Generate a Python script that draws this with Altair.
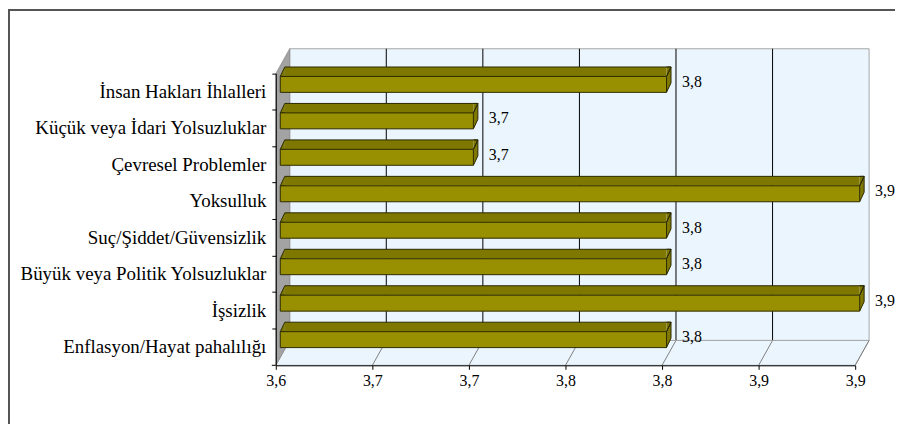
import json
import altair as alt
import pandas as pd

# ---------------- data ----------------
categories = [
    "İnsan Hakları İhlalleri",
    "Küçük veya İdari Yolsuzluklar",
    "Çevresel Problemler",
    "Yoksulluk",
    "Suç/Şiddet/Güvensizlik",
    "Büyük veya Politik Yolsuzluklar",
    "İşsizlik",
    "Enflasyon/Hayat pahalılığı",
]
values = [3.80, 3.70, 3.70, 3.90, 3.80, 3.80, 3.90, 3.80]
value_labels = ["3,8", "3,7", "3,7", "3,9", "3,8", "3,8", "3,9", "3,8"]
x_ticks = [3.6, 3.65, 3.7, 3.75, 3.8, 3.85, 3.9]
x_tick_labels = ["3,6", "3,7", "3,7", "3,8", "3,8", "3,9", "3,9"]

# ---------------- layout / style ----------------
W, H = 582, 293
PL, PT = 269, 65
PR, PB = 891 - PL - W, 416 - PT - H
DX, DY = 14, 25            # depth of the 3D box
BX, BY = 4.5, -7.5         # shift of bar front faces
FH = 16                    # front face height
TDX, TDY = 4.5, 9.5        # bar depth
FONT = "Liberation Serif"
FRONT = "#989000"
TOP = "#7E7700"
EDGE = "#2B2A00"
WALL = "#EBF5FD"
GRAYWALL = "#A3A3A3"

bars = pd.DataFrame({"cat": categories, "value": values,
                     "label": value_labels, "base": x_ticks[0]})
ticks_df = pd.DataFrame({"t": x_ticks})
one = pd.DataFrame({"a": [0]})

step = x_ticks[1] - x_ticks[0]
label_expr = (f"{json.dumps(x_tick_labels)}"
              f"[round((datum.value - {x_ticks[0]}) / {step})]")

xscale = alt.Scale(domain=[x_ticks[0], x_ticks[-1]], nice=False, zero=False)
yscale = alt.Scale(domain=categories, paddingInner=0, paddingOuter=0)

xaxis = alt.Axis(values=x_ticks, labelExpr=label_expr, grid=False, title=None,
                 domainColor="#000000", tickColor="#000000", tickSize=4,
                 labelFont=FONT, labelFontSize=16, labelColor="#000000",
                 labelPadding=3, labelFlush=False, zindex=1)
yaxis = alt.Axis(title=None, grid=False, bandPosition=0,
                 domainColor="#000000", tickColor="#000000", tickSize=4,
                 labelFont=FONT, labelFontSize=19, labelColor="#000000",
                 labelPadding=6, labelLimit=400, zindex=1)


def X(field):
    return alt.X(field, scale=xscale, axis=xaxis)


def Y():
    return alt.Y("cat:N", scale=yscale, axis=yaxis)


# outer frame
border = alt.Chart(one).mark_rect(fill="white", stroke="#555555", strokeWidth=2).encode(
    x=alt.value(-PL + 1), x2=alt.value(W + PR + 30),
    y=alt.value(-PT + 1), y2=alt.value(H + PB + 30))

# back wall
backwall = alt.Chart(one).mark_rect(
    fill=WALL, stroke="#A6A6A6", strokeWidth=1,
    xOffset=DX, x2Offset=DX, yOffset=-DY, y2Offset=-DY).encode(
    x=alt.X(datum=x_ticks[0], scale=xscale, axis=xaxis),
    x2=alt.X2(datum=x_ticks[-1]),
    y=alt.value(0), y2=alt.value(H))

# gridlines on back wall
grid = alt.Chart(ticks_df.iloc[1:-1]).mark_rule(
    color="#000000", strokeWidth=1, xOffset=DX, yOffset=-DY, y2Offset=-DY).encode(
    x=X("t:Q"), y=alt.value(0), y2=alt.value(H))

# floor
floor_path = f"M 0 0 L {DX} {-DY} L {W + DX} {-DY} L {W} 0 Z"
floor = alt.Chart(one).mark_point(
    shape=floor_path, size=4, filled=True, fill=WALL, stroke="#A6A6A6",
    strokeWidth=1, opacity=1).encode(
    x=alt.X(datum=x_ticks[0], scale=xscale, axis=xaxis), y=alt.value(H))

# floor slanted lines
floor_lines = alt.Chart(ticks_df.iloc[1:]).mark_rule(
    color="#808080", strokeWidth=1, x2Offset=DX, y2Offset=-DY).encode(
    x=X("t:Q"), x2="t:Q", y=alt.value(H), y2=alt.value(H))

# left wall
lw_path = f"M 0 0 L 0 {-H} L {DX} {-H - DY} L {DX} {-DY} Z"
leftwall = alt.Chart(one).mark_point(
    shape=lw_path, size=4, filled=True, fill=GRAYWALL, stroke="#8A8A8A",
    strokeWidth=0.8, opacity=1).encode(
    x=alt.X(datum=x_ticks[0], scale=xscale, axis=xaxis), y=alt.value(H))

# extra bottom tick of category axis
ytick = alt.Chart(one).mark_rule(color="#000000").encode(
    x=alt.value(-4), x2=alt.value(0), y=alt.value(H))

# bars: top face
top_rect = alt.Chart(bars).mark_bar(
    color=TOP, height=TDY, yOffset=BY - FH / 2 - TDY / 2,
    xOffset=BX + TDX, x2Offset=BX).encode(
    x=X("base:Q"), x2="value:Q", y=Y())

left_tri = alt.Chart(bars).mark_point(
    shape=f"M {TDX} 0 L 0 0 L {TDX} {-TDY}", size=4, filled=True,
    fill=TOP, stroke=EDGE, strokeWidth=1, opacity=1,
    xOffset=BX, yOffset=BY - FH / 2).encode(x=X("base:Q"), y=Y())

right_piece = alt.Chart(bars).mark_point(
    shape=(f"M 0 {-TDY} L {TDX} {-TDY} L 0 0 "
           f"M 0 0 L {TDX} {-TDY} L {TDX} {FH - TDY} L 0 {FH}"),
    size=4, filled=True, fill=TOP, stroke=EDGE, strokeWidth=1, opacity=1,
    xOffset=BX, yOffset=BY - FH / 2).encode(x=X("value:Q"), y=Y())

top_edge = alt.Chart(bars).mark_rule(
    color=EDGE, strokeWidth=1, xOffset=BX + TDX, x2Offset=BX + TDX,
    yOffset=BY - FH / 2 - TDY).encode(x=X("base:Q"), x2="value:Q", y=Y())

front = alt.Chart(bars).mark_bar(
    color=FRONT, stroke=EDGE, strokeWidth=1, height=FH,
    xOffset=BX, x2Offset=BX, yOffset=BY).encode(
    x=X("base:Q"), x2="value:Q", y=Y())

labels = alt.Chart(bars).mark_text(
    font=FONT, fontSize=16, color="#000000", align="left",
    baseline="middle", dx=20, dy=-10).encode(
    x=X("value:Q"), y=Y(), text="label:N")

chart = alt.layer(
    border, backwall, grid, floor, floor_lines, leftwall, ytick,
    top_rect, left_tri, right_piece, top_edge, front, labels
).properties(
    width=W, height=H,
    padding={"left": PL, "top": PT, "right": PR, "bottom": PB},
    autosize=alt.AutoSizeParams(type="none"),
).configure_view(strokeWidth=0)

chart.save("out.html", embed_options={"renderer": "svg", "actions": False})
